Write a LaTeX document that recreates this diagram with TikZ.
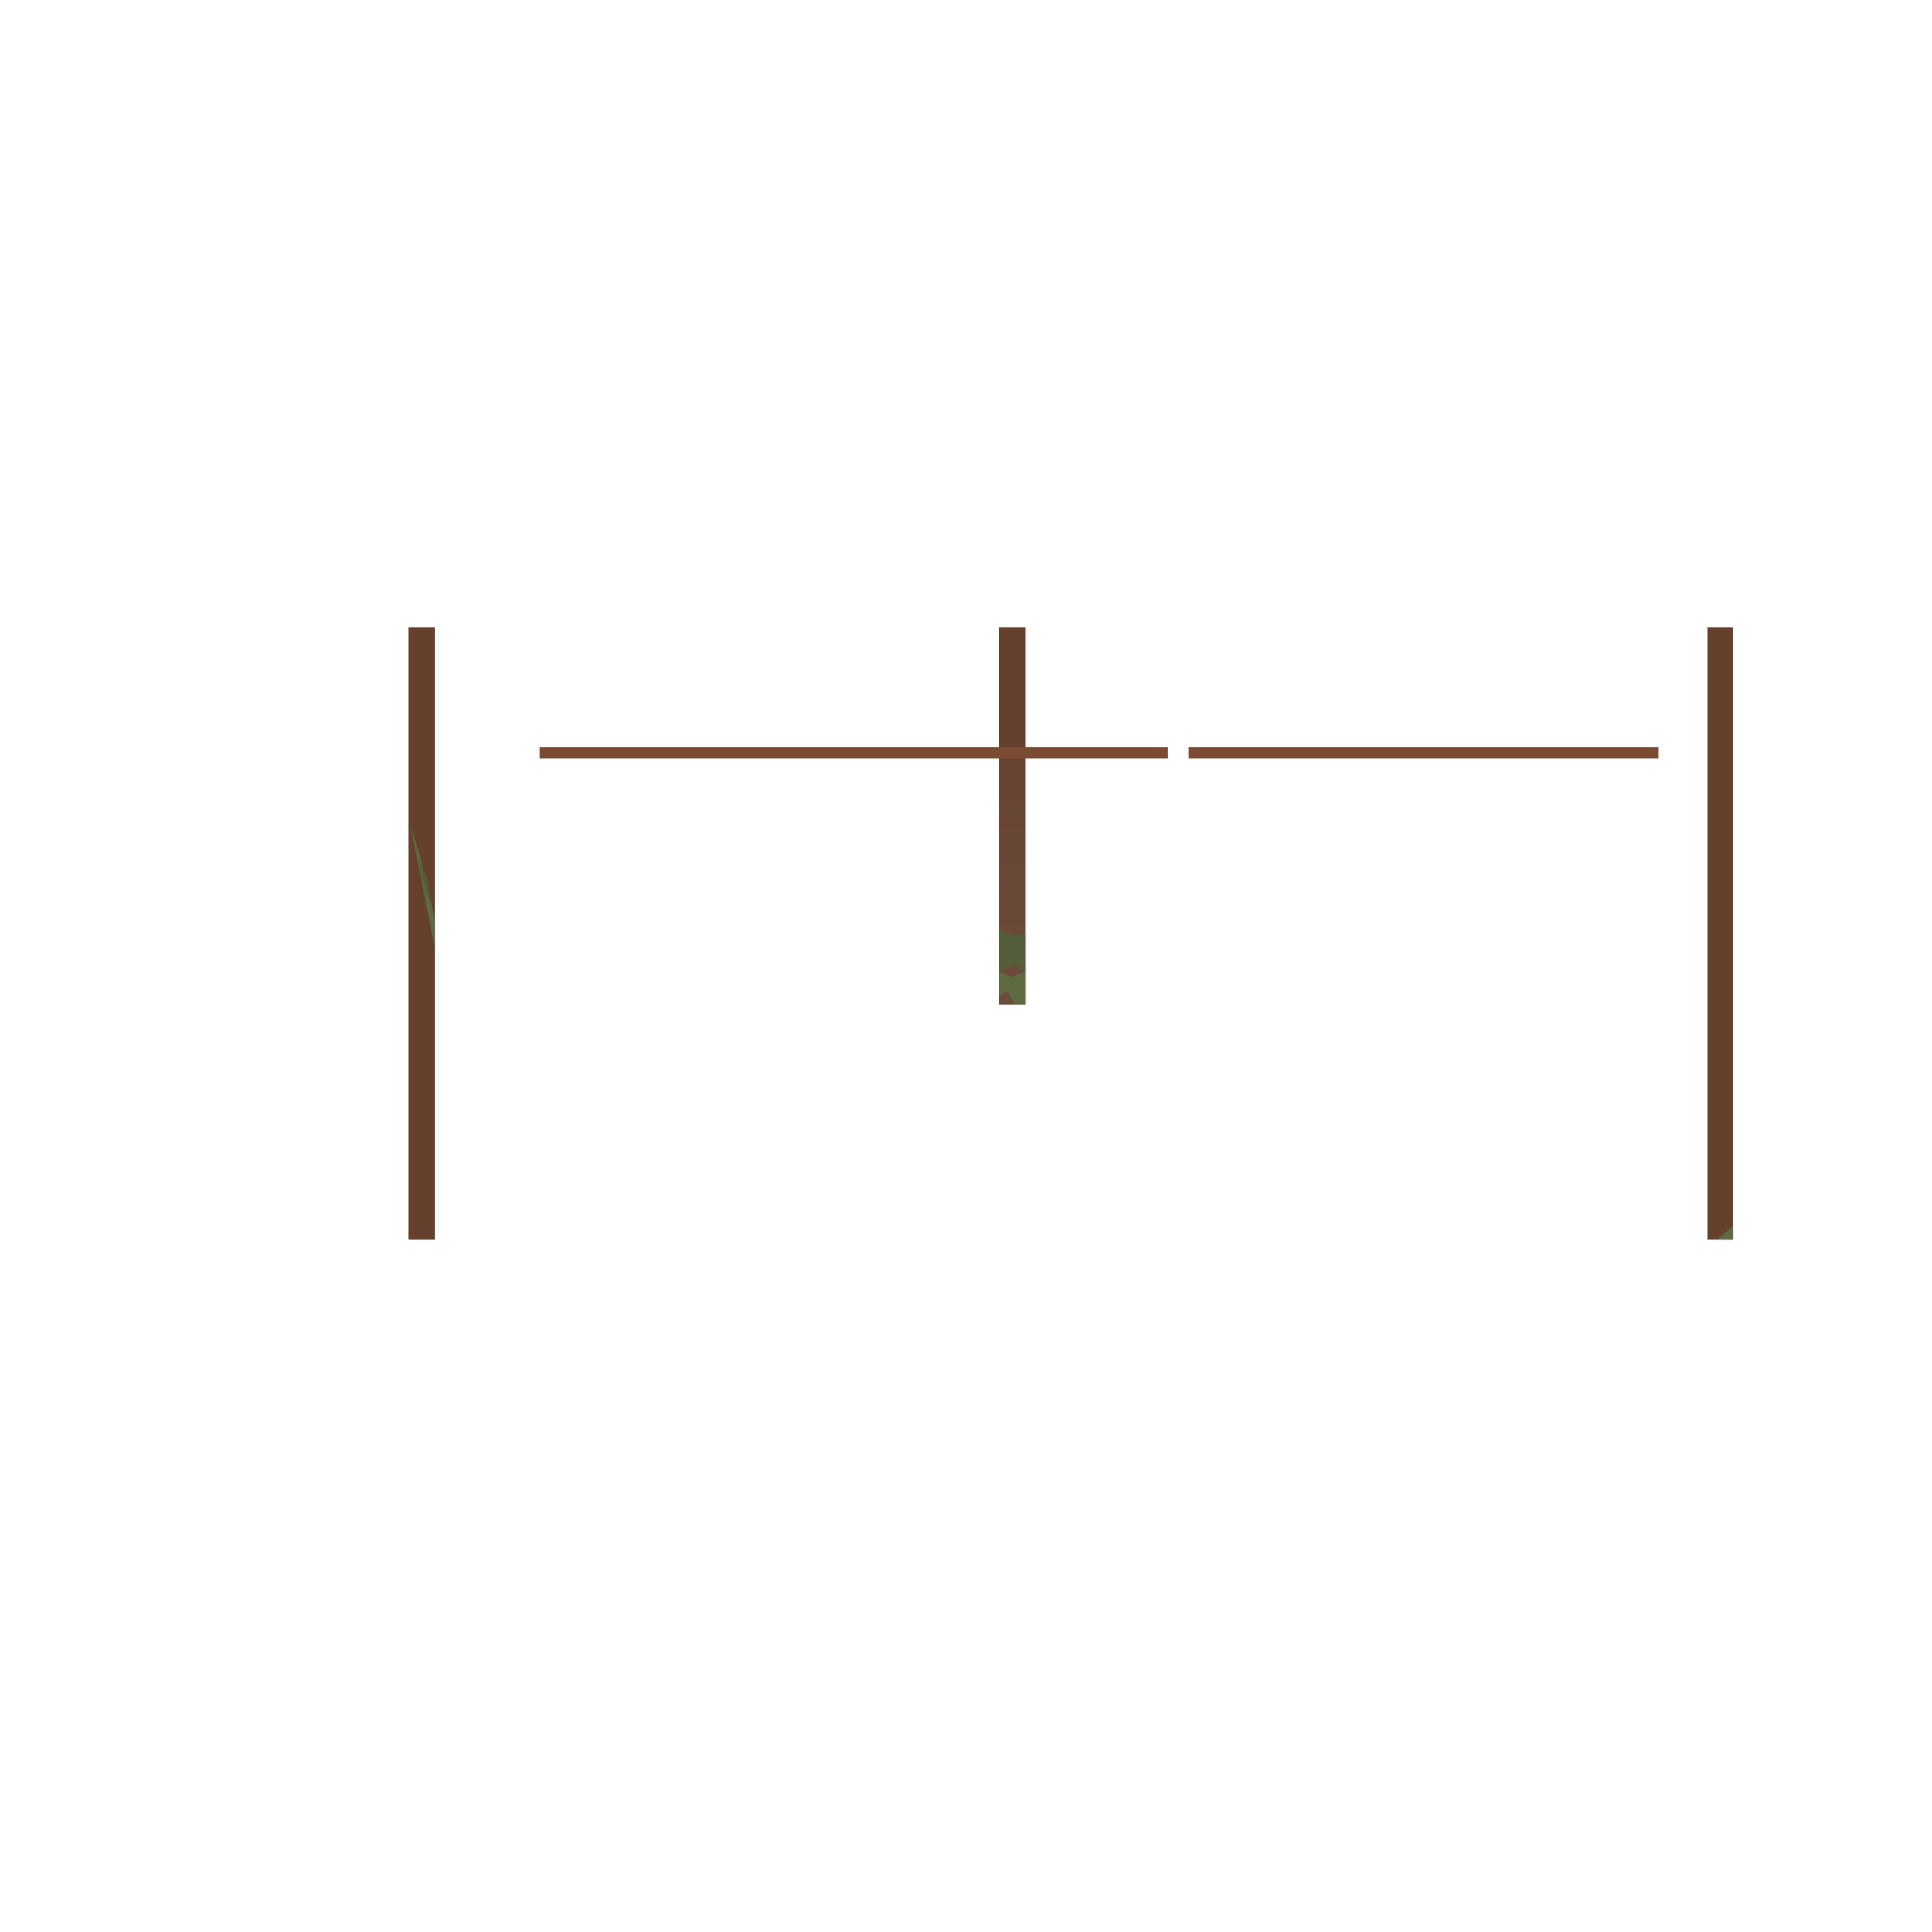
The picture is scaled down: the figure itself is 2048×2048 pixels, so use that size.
\documentclass[tikz,border=0pt]{standalone}
\usepackage{tikz}
\definecolor{postbrown}{RGB}{101,64,44}
\definecolor{postlight}{RGB}{108,76,60}
\definecolor{railbrown}{RGB}{123,74,51}
\definecolor{mossgreen}{RGB}{94,107,64}
\definecolor{mossdark}{RGB}{84,94,58}
\tikzset{
  post/.style={fill=postbrown, draw=none},
  rail/.style={fill=railbrown, draw=none},
  moss/.style={fill=mossgreen, draw=none},
  mossdeep/.style={fill=mossdark, draw=none}
}
\begin{document}
\begin{tikzpicture}[x=0.01cm, y=-0.01cm]
  \useasboundingbox (0,0) rectangle (2048,2048);
  % Posts
  \fill[post] (433,665) rectangle (461,1314);
  \shade[top color=postbrown, bottom color=postlight] (1059,665) rectangle (1087,1064);
  \fill[post] (1059,665) rectangle (1087,800);
  \fill[post] (1810,665) rectangle (1837,1314);
  % Rails
  \fill[rail] (572,792) rectangle (1238,804);
  \fill[rail] (1260,792) rectangle (1758,804);
  % Moss on the posts
  \fill[moss] (435,875) -- (446,910) -- (461,975) -- (461,1005) -- (452,960) -- cycle;
  \fill[mossdeep] (441,900) -- (452,930) -- (459,965) -- (450,940) -- cycle;
  \fill[mossdeep] (1059,985) -- (1075,992) -- (1087,990) -- (1087,1030)
        -- (1075,1022) -- (1059,1030) -- cycle;
  \fill[moss] (1059,1030) -- (1072,1036) -- (1087,1030) -- (1087,1064)
        -- (1075,1064) -- (1068,1050) -- (1059,1056) -- cycle;
  \fill[moss] (1820,1314) -- (1837,1300) -- (1837,1314) -- cycle;
\end{tikzpicture}
\end{document}
